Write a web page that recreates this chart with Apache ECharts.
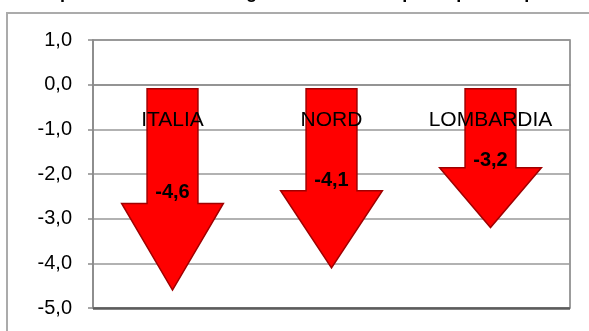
<!DOCTYPE html>
<html>
<head>
<meta charset="utf-8">
<script src="https://cdn.jsdelivr.net/npm/echarts@6/dist/echarts.min.js"></script>
<style>
  html, body { margin: 0; padding: 0; background: #fff; }
  #chart { width: 589px; height: 331px; }
</style>
</head>
<body>
<div id="chart"></div>
<script>
// Territorial areas and their percentage change
const areas = ['ITALIA', 'NORD', 'LOMBARDIA'];
const changes = [-4.6, -4.1, -3.2];

// Value axis range and step
const yMin = -5;
const yMax = 1;
const yStep = 1;

const titleText = 'Spesa media delle famiglie: variazione % pro capite nel periodo 2008-2012';

const FONT = 'Arial, "Liberation Sans", sans-serif';
const fmt = v => Number(v).toFixed(1).replace('.', ',');

// Each value is drawn as a downward block arrow from zero to the value
function renderArrow(params, api) {
  const i = api.value(0);
  const v = api.value(1);
  const start = api.coord([i, 0]);
  const end = api.coord([i, v]);
  const band = api.size([1, 0])[0];
  const cx = start[0];
  const top = start[1] + 4;
  const tip = end[1];
  const len = tip - top;
  const neck = tip - 0.43 * len;
  const sw = band * 0.16;
  const hw = band * 0.32;
  return {
    type: 'group',
    children: [
      {
        type: 'polygon',
        shape: {
          points: [
            [cx - sw, top], [cx + sw, top], [cx + sw, neck], [cx + hw, neck],
            [cx, tip], [cx - hw, neck], [cx - sw, neck]
          ]
        },
        style: { fill: '#ff0000', stroke: '#a00000', lineWidth: 1.5 }
      },
      {
        type: 'text',
        x: cx,
        y: top + 0.515 * len,
        z2: 10,
        style: {
          text: fmt(v),
          fill: '#000',
          fontSize: 20,
          fontWeight: 'bold',
          fontFamily: FONT,
          align: 'center',
          verticalAlign: 'middle'
        }
      }
    ]
  };
}

const chart = echarts.init(document.getElementById('chart'), null, { renderer: 'canvas' });

const gridTop = 40;

chart.setOption({
  animation: false,
  backgroundColor: '#fff',
  graphic: [
    {
      type: 'rect',
      silent: true,
      z: -10,
      shape: { x: 7, y: 13, width: 700, height: 400 },
      style: { fill: 'none', stroke: '#ababab', lineWidth: 2 }
    },
    {
      type: 'text',
      silent: true,
      x: 48,
      y: 2.5,
      style: {
        text: titleText,
        fontSize: 18,
        fontWeight: 'bold',
        fontFamily: FONT,
        fill: '#000',
        verticalAlign: 'bottom'
      }
    }
  ],
  grid: {
    left: 93, right: 19, top: gridTop, bottom: 23,
    show: true,
    borderColor: '#7c7c7c',
    borderWidth: 1.5,
    containLabel: false,
    outerBoundsMode: 'none'
  },
  // Category axis drawn along the zero line, labels hanging below it
  xAxis: {
    type: 'category',
    data: areas,
    position: 'top',
    offset: 0,
    z: 5,
    axisLine: { onZero: false, lineStyle: { color: '#8a8a8a', width: 1.5 } },
    axisTick: { inside: true, length: 5, lineStyle: { color: '#8a8a8a', width: 1.5 } },
    axisLabel: {
      inside: true,
      interval: 0,
      hideOverlap: false,
      margin: 25,
      color: '#000',
      fontSize: 21,
      fontFamily: FONT
    },
    splitLine: { show: false }
  },
  yAxis: {
    type: 'value',
    min: yMin,
    max: yMax,
    interval: yStep,
    axisLine: { show: true, onZero: false, lineStyle: { color: '#8a8a8a', width: 1.5 } },
    axisTick: { show: true, length: 5, lineStyle: { color: '#8a8a8a', width: 1.5 } },
    axisLabel: { margin: 21, color: '#000', fontSize: 20, fontFamily: FONT, formatter: fmt },
    splitLine: { show: true, lineStyle: { color: '#999', width: 1.5 } }
  },
  series: [
    {
      type: 'custom',
      renderItem: renderArrow,
      encode: { x: 0, y: 1 },
      data: changes.map((v, i) => [i, v]),
      z: 2,
      markLine: {
        silent: true,
        symbol: 'none',
        label: { show: false },
        lineStyle: { color: '#5c5c5c', width: 2.5, type: 'solid' },
        data: [{ yAxis: yMin }]
      }
    }
  ]
});

// Move the category axis down onto the value axis' zero
const zeroY = chart.convertToPixel({ yAxisIndex: 0 }, 0);
chart.setOption({ xAxis: { offset: -(zeroY - gridTop) } });
</script>
</body>
</html>
